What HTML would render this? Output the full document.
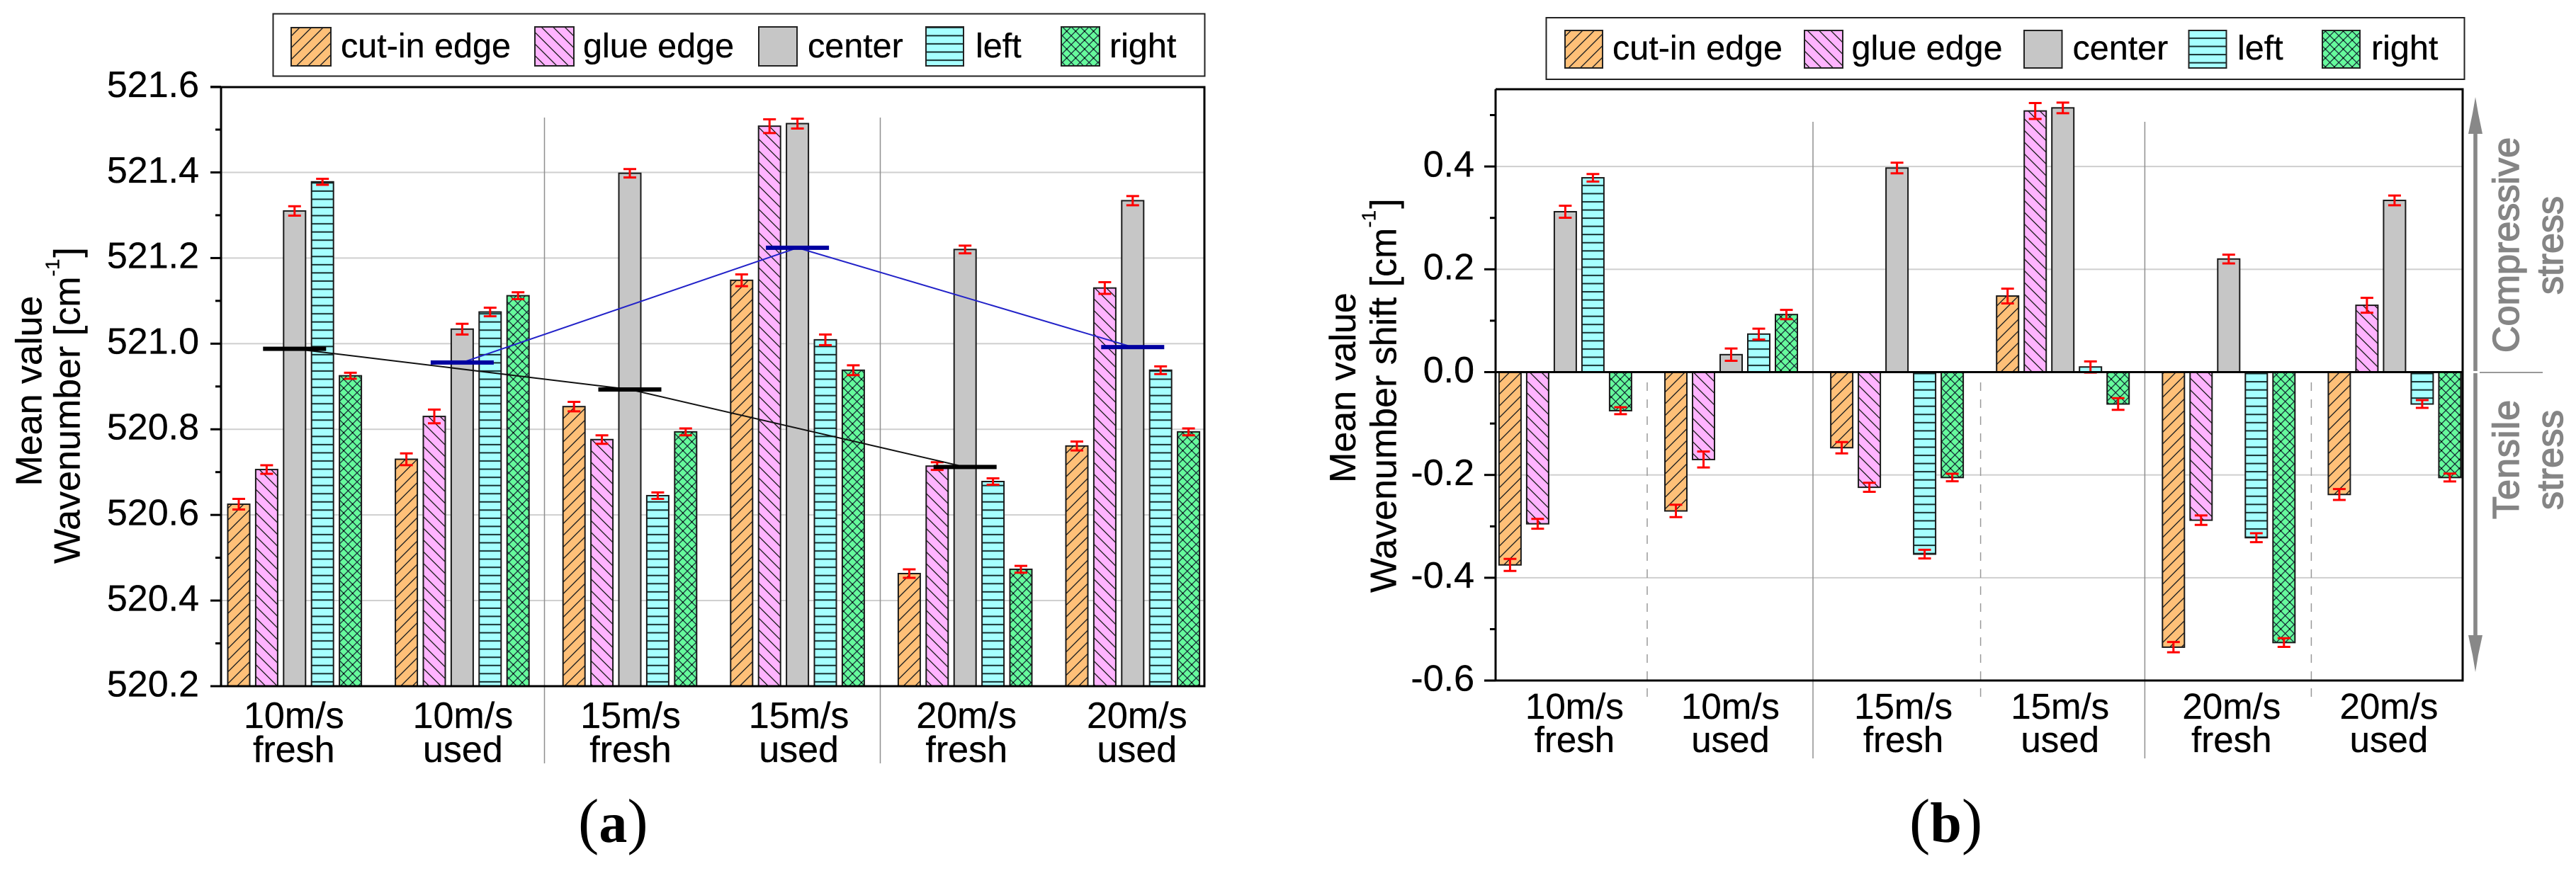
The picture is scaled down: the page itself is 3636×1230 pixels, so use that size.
<!DOCTYPE html>
<html lang="en">
<head>
<meta charset="utf-8">
<title>Mean wavenumber charts</title>
<style>
html,body{margin:0;padding:0;background:#fff;}
svg{display:block;}
text{font-family:"Liberation Sans",sans-serif;fill:#000;stroke:#000;stroke-width:0.3px;}
.leg{font-size:48.5px;}
.cap{font-family:"Liberation Serif",serif;font-size:80px;stroke-width:0;}
.title{font-size:52px;}
.stress{font-size:52px;fill:#858585;stroke:#858585;stroke-width:1.5px;}
</style>
</head>
<body>
<svg id="fig" xmlns="http://www.w3.org/2000/svg" width="3636" height="1230" viewBox="0 0 3636 1230">
<defs>
<pattern id="p-cut" patternUnits="userSpaceOnUse" width="16.5" height="16.5"><rect width="16.5" height="16.5" fill="#ffc078"/><path d="M-2 18.5L18.5 -2M-2 2L2 -2M14.5 18.5L18.5 14.5" stroke="#222" stroke-width="1.4"/></pattern>
<pattern id="p-glue" patternUnits="userSpaceOnUse" width="16.5" height="16.5"><rect width="16.5" height="16.5" fill="#ffb4ff"/><path d="M-2 -2L18.5 18.5M14.5 -2L18.5 2M-2 14.5L2 18.5" stroke="#222" stroke-width="1.4"/></pattern>
<pattern id="p-left-a" patternUnits="userSpaceOnUse" width="20" height="11.55"><rect width="20" height="11.55" fill="#a6ffff"/><rect y="3.2" width="20" height="2" fill="#143030"/></pattern>
<pattern id="p-left-b" patternUnits="userSpaceOnUse" width="20" height="11.55"><rect width="20" height="11.55" fill="#a6ffff"/><rect y="6.8" width="20" height="2" fill="#143030"/></pattern>
<pattern id="p-right" patternUnits="userSpaceOnUse" width="12.6" height="12.6"><rect width="12.6" height="12.6" fill="#66fa9c"/><path d="M0 0L12.6 12.6M0 12.6L12.6 0" stroke="#123" stroke-width="1.2"/><circle cx="6.3" cy="6.3" r="1.1" fill="#000"/></pattern>
</defs>
<rect width="3636" height="1230" fill="#fff"/>

<g id="chart-a"></g>
<g id="chart-b"></g>

<g>
<rect x="385.5" y="19.5" width="1315" height="88" fill="#fff" stroke="#222" stroke-width="2"/>
<rect x="411" y="39" width="56" height="54" fill="url(#p-cut)" stroke="#222" stroke-width="2"/>
<text class="leg" x="481" y="81">cut-in edge</text>
<rect x="755" y="38" width="55" height="55" fill="url(#p-glue)" stroke="#222" stroke-width="2"/>
<text class="leg" x="823" y="81">glue edge</text>
<rect x="1071" y="38" width="54" height="55" fill="#c6c6c6" stroke="#222" stroke-width="2"/>
<text class="leg" x="1140" y="81">center</text>
<rect x="1307" y="38" width="53" height="55" fill="url(#p-left-a)" stroke="#222" stroke-width="2"/>
<text class="leg" x="1377" y="81">left</text>
<rect x="1498" y="38" width="54" height="55" fill="url(#p-right)" stroke="#222" stroke-width="2"/>
<text class="leg" x="1566" y="81">right</text>
</g>

<g>
<rect x="2182.5" y="25" width="1296" height="87" fill="#fff" stroke="#222" stroke-width="2"/>
<rect x="2209" y="43" width="53" height="53" fill="url(#p-cut)" stroke="#222" stroke-width="2"/>
<text class="leg" x="2276" y="84">cut-in edge</text>
<rect x="2547" y="43" width="54" height="53" fill="url(#p-glue)" stroke="#222" stroke-width="2"/>
<text class="leg" x="2613.5" y="84">glue edge</text>
<rect x="2857" y="43" width="53.5" height="53" fill="#c6c6c6" stroke="#222" stroke-width="2"/>
<text class="leg" x="2925.5" y="84">center</text>
<rect x="3089.5" y="43" width="53" height="53" fill="url(#p-left-b)" stroke="#222" stroke-width="2"/>
<text class="leg" x="3158" y="84">left</text>
<rect x="3278" y="43" width="53" height="53" fill="url(#p-right)" stroke="#222" stroke-width="2"/>
<text class="leg" x="3347" y="84">right</text>
</g>

<text class="title" transform="translate(58.3,686.5) rotate(-90)">Mean value</text>
<text class="title" transform="translate(112.7,796) rotate(-90)">Wavenumber [cm<tspan font-size="28" dy="-29">-1</tspan><tspan dy="29" dx="2">]</tspan></text>
<text class="title" transform="translate(1913,682) rotate(-90)">Mean value</text>
<text class="title" transform="translate(1970.7,837) rotate(-90)">Wavenumber shift [cm<tspan font-size="28" dy="-29">-1</tspan><tspan dy="29" dx="2">]</tspan></text>

<g>
<rect x="3491.2" y="185" width="5.6" height="339" fill="#888"/>
<path d="M3494 137L3498 160L3504 189L3484 189L3490 160Z" fill="#888"/>
<rect x="3491.2" y="527" width="5.6" height="372" fill="#888"/>
<path d="M3494 949L3490 925L3484 897L3504 897L3498 925Z" fill="#888"/>
<rect x="3500" y="525" width="89" height="2" fill="#999"/>
<text class="stress" transform="translate(3555,498) rotate(-90)" textLength="304">Compressive</text>
<text class="stress" transform="translate(3617,416) rotate(-90)" textLength="139">stress</text>
<text class="stress" transform="translate(3555,733) rotate(-90)" textLength="168">Tensile</text>
<text class="stress" transform="translate(3617,720) rotate(-90)" textLength="141">stress</text>
</g>

<text class="cap" x="816" y="1189"><tspan font-size="88">(</tspan><tspan font-weight="700">a</tspan><tspan font-size="88">)</tspan></text>
<text class="cap" x="2695" y="1189"><tspan font-size="88">(</tspan><tspan font-weight="700">b</tspan><tspan font-size="88">)</tspan></text>
</svg>

<script>
// ---------- data ----------
const seriesNames = ['cut-in-edge', 'glue-edge', 'center', 'left', 'right'];
const categoriesTop = ['10m/s', '10m/s', '15m/s', '15m/s', '20m/s', '20m/s'];
const categoriesBottom = ['fresh', 'used', 'fresh', 'used', 'fresh', 'used'];

const ticksA = [520.2, 520.4, 520.6, 520.8, 521.0, 521.2, 521.4, 521.6];
const minorTicksA = [520.3, 520.5, 520.7, 520.9, 521.1, 521.3, 521.5];
const tickLabelsA = ['520.2', '520.4', '520.6', '520.8', '521.0', '521.2', '521.4', '521.6'];

const cutInA = [520.625, 520.730, 520.853, 521.148, 520.463, 520.761];
const glueA = [520.706, 520.830, 520.776, 521.508, 520.714, 521.130];
const centerA = [521.310, 521.034, 521.398, 521.514, 521.220, 521.334];
const leftA = [521.378, 521.074, 520.645, 521.009, 520.678, 520.938];
const rightA = [520.925, 521.112, 520.794, 520.938, 520.473, 520.794];

const errCutInA = [0.0124, 0.0137, 0.011, 0.0137, 0.010, 0.0105];
const errGlueA = [0.010, 0.016, 0.010, 0.016, 0.009, 0.0137];
const errCenterA = [0.011, 0.0125, 0.0098, 0.0115, 0.009, 0.0108];
const errLeftA = [0.007, 0.010, 0.0075, 0.0125, 0.0075, 0.009];
const errRightA = [0.007, 0.008, 0.008, 0.0115, 0.008, 0.008];

const freshMeansA = [520.988, 520.893, 520.712];
const usedMeansA = [520.956, 521.224, 520.992];

const ticksB = [-0.6, -0.4, -0.2, 0.0, 0.2, 0.4];
const minorTicksB = [-0.5, -0.3, -0.1, 0.1, 0.3, 0.5];
const tickLabelsB = ['-0.6', '-0.4', '-0.2', '0.0', '0.2', '0.4'];

const cutInB = [-0.375, -0.270, -0.147, 0.148, -0.535, -0.238];
const glueB = [-0.295, -0.170, -0.224, 0.508, -0.288, 0.130];
const centerB = [0.312, 0.034, 0.397, 0.514, 0.220, 0.334];
const leftB = [0.378, 0.074, -0.354, 0.010, -0.322, -0.062];
const rightB = [-0.075, 0.112, -0.205, -0.062, -0.526, -0.205];

const errCutInB = [0.0117, 0.012, 0.011, 0.0144, 0.010, 0.0106];
const errGlueB = [0.0095, 0.0155, 0.0087, 0.0155, 0.0092, 0.0144];
const errCenterB = [0.0117, 0.012, 0.0103, 0.0103, 0.0085, 0.0095];
const errLeftB = [0.0073, 0.0106, 0.0085, 0.0109, 0.0087, 0.0076];
const errRightB = [0.0068, 0.009, 0.0073, 0.0114, 0.0085, 0.0076];

// ---------- axis functions ----------
function yA(v) { return 969 - (v - 520.2) * 604.6; }
function xA(group, series) { return 415.8 + 236.6 * group + (series - 2) * 39.4; }
function yB(v) { return 525.5 - v * 726; }
function xB(group, series) { return 2209.4 + 234.1 * group + (series - 2) * 39; }

const NS = 'http://www.w3.org/2000/svg';

function make(parent, tag, props, content) {
  const el = document.createElementNS(NS, tag);
  for (const k in props) el.setAttribute(k, props[k]);
  if (content !== undefined) el.textContent = content;
  parent.appendChild(el);
  return el;
}

function drawChart(cfg) {
  const g = document.getElementById(cfg.id);
  const tag = cfg.tag;
  const fills = ['url(#p-cut)', 'url(#p-glue)', '#c6c6c6', 'url(#p-left-' + tag + ')', 'url(#p-right)'];

  cfg.ticks.forEach(function (v, i) {
    if (cfg.gridSkip.indexOf(v) !== -1) return;
    const line = make(g, 'rect', { x: cfg.left, y: cfg.y(v) - 1, width: cfg.right - cfg.left, height: 2, fill: '#cfcfcf' });
    
    
  });

  cfg.solidSeps.forEach(function (sx, i) {
    const line = make(g, 'rect', { x: sx - 0.75, y: cfg.sepTop, width: 1.5, height: cfg.sepBottom - cfg.sepTop, fill: '#8f8f8f' });
    
    
  });
  cfg.dashedSeps.forEach(function (sx, i) {
    const line = make(g, 'line', { x1: sx, x2: sx, y1: cfg.dashTop, y2: cfg.dashBottom, stroke: '#9a9a9a', 'stroke-width': 1.5, 'stroke-dasharray': '12 12' });
    
    
  });

  const base = cfg.y(cfg.base);
  cfg.series.forEach(function (vals, s) {
    vals.forEach(function (v, c) {
      const px = cfg.x(c, s);
      const py = cfg.y(v);
      const bar = make(g, 'rect', {
        x: px - cfg.barW / 2, y: Math.min(py, base), width: cfg.barW, height: Math.abs(base - py),
        fill: fills[s], stroke: '#1a1a1a', 'stroke-width': 2
      });
      
      
    });
  });
  cfg.series.forEach(function (vals, s) {
    vals.forEach(function (v, c) {
      const px = cfg.x(c, s);
      const hi = cfg.y(v + cfg.errors[s][c]);
      const lo = cfg.y(v - cfg.errors[s][c]);
      const eb = make(g, 'path', {
        d: 'M' + (px - 9) + ' ' + hi + 'H' + (px + 9) + 'M' + px + ' ' + hi + 'V' + lo + 'M' + (px - 9) + ' ' + lo + 'H' + (px + 9),
        fill: 'none', stroke: '#ff0000', 'stroke-width': 3
      });
      
      
    });
  });

  cfg.means.forEach(function (m) {
    const pts = m.values.map(function (v, i) { return cfg.x(m.start + 2 * i, 2) + ',' + cfg.y(v); }).join(' ');
    const link = make(g, 'polyline', { points: pts, fill: 'none', stroke: m.thin, 'stroke-width': 2 });
    
    
    m.values.forEach(function (v, i) {
      const cx = cfg.x(m.start + 2 * i, 2);
      const mark = make(g, 'rect', { x: cx - 44.5, y: cfg.y(v) - 3, width: 89, height: 6, fill: m.thick });
      
      
    });
  });

  const frame = make(g, 'path', {
    d: 'M' + cfg.left + ' ' + cfg.top + 'V' + cfg.bottom + 'M' + cfg.right + ' ' + cfg.top + 'V' + cfg.bottom,
    stroke: '#000', 'stroke-width': 3, fill: 'none'
  });
  
  
  const topBar = make(g, 'path', { d: 'M' + cfg.topStart + ' ' + cfg.top + 'H' + (cfg.right + 1.5), stroke: '#000', 'stroke-width': 3 });
  
  
  const botBar = make(g, 'path', { d: 'M' + cfg.tickStart + ' ' + cfg.bottom + 'H' + (cfg.right + 1.5), stroke: '#000', 'stroke-width': 3 });
  
  
  if (cfg.zeroLine) {
    const zero = make(g, 'path', { d: 'M' + cfg.left + ' ' + cfg.y(0) + 'H' + (cfg.right + 1.5), stroke: '#000', 'stroke-width': 3 });
    
    
  }

  cfg.ticks.forEach(function (v, i) {
    const py = cfg.y(v);
    const tk = make(g, 'path', { d: 'M' + cfg.tickStart + ' ' + py + 'H' + cfg.left, stroke: '#000', 'stroke-width': 3 });
    
    
    const lb = make(g, 'text', { x: cfg.labelRight, y: py + 14.3, 'text-anchor': 'end', 'font-size': 52 }, cfg.tickLabels[i]);
    
    
  });
  cfg.minor.forEach(function (v, i) {
    const tk = make(g, 'path', { d: 'M' + (cfg.left - 8) + ' ' + cfg.y(v) + 'H' + cfg.left, stroke: '#000', 'stroke-width': 3 });
    
    
  });

  categoriesTop.forEach(function (t, c) {
    const cx = cfg.x(c, 2) + cfg.labelNudge[c];
    const a = make(g, 'text', { x: cx, y: cfg.catY1, 'text-anchor': 'middle', 'font-size': cfg.catSize }, t);
    
    
    const b = make(g, 'text', { x: cx, y: cfg.catY2, 'text-anchor': 'middle', 'font-size': cfg.catSize }, categoriesBottom[c]);
    
    
  });
}

drawChart({
  id: 'chart-a', tag: 'a', x: xA, y: yA, base: 520.2, barW: 31,
  series: [cutInA, glueA, centerA, leftA, rightA],
  errors: [errCutInA, errGlueA, errCenterA, errLeftA, errRightA],
  ticks: ticksA, minor: minorTicksA, tickLabels: tickLabelsA, gridSkip: [520.2, 521.6],
  means: [
    { name: 'fresh', start: 0, values: freshMeansA, thick: '#000', thin: '#111' },
    { name: 'used', start: 1, values: usedMeansA, thick: '#0000a0', thin: '#2222c8' }
  ],
  left: 312, right: 1700, top: 123, bottom: 969, topStart: 297, tickStart: 297, labelRight: 281,
  solidSeps: [768.5, 1242.5], dashedSeps: [], sepTop: 166, sepBottom: 1078,
  labelNudge: [-1, 1, 1, 2, 2, 6],
  catY1: 1028, catY2: 1076, catSize: 52, zeroLine: false
});

drawChart({
  id: 'chart-b', tag: 'b', x: xB, y: yB, base: 0, barW: 31,
  series: [cutInB, glueB, centerB, leftB, rightB],
  errors: [errCutInB, errGlueB, errCenterB, errLeftB, errRightB],
  ticks: ticksB, minor: minorTicksB, tickLabels: tickLabelsB, gridSkip: [0, -0.6],
  means: [],
  left: 2111, right: 3476, top: 126, bottom: 961, topStart: 2111, tickStart: 2095, labelRight: 2081,
  solidSeps: [2559, 3027.4], dashedSeps: [2325, 2795.6, 3262.4], sepTop: 172, sepBottom: 1071, dashTop: 540, dashBottom: 986,
  labelNudge: [13, -1, 9, -4, 4, -8],
  catY1: 1015, catY2: 1062, catSize: 51, zeroLine: true
});
</script>
</body>
</html>
